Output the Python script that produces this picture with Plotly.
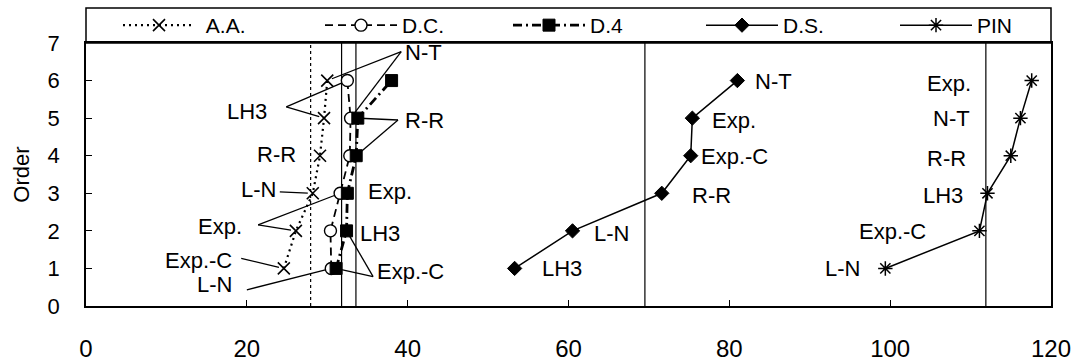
import numpy as np
import plotly.graph_objects as go

# ---------------- data ----------------
orders = [1, 2, 3, 4, 5, 6]
aa = [24.6, 26.1, 28.2, 29.1, 29.6, 30.0]          # A.A.
dc = [30.5, 30.4, 31.6, 32.8, 32.9, 32.5]          # D.C.
d4 = [31.1, 32.4, 32.5, 33.6, 33.8, 38.0]          # D.4
ds = [53.3, 60.5, 71.6, 75.2, 75.4, 81.0]          # D.S.
pin = [99.4, 111.1, 112.1, 115.0, 116.2, 117.6]    # PIN

ds_labels = ["LH3", "L-N", "R-R", "Exp.-C", "Exp.", "N-T"]
pin_labels = ["L-N", "Exp.-C", "LH3", "R-R", "N-T", "Exp."]
x_ticks = [0, 20, 40, 60, 80, 100, 120]
y_ticks = [0, 1, 2, 3, 4, 5, 6, 7]

series = {"A.A.": aa, "D.C.": dc, "D.4": d4, "D.S.": ds, "PIN": pin}

FONT = "Arial, Liberation Sans, Helvetica, sans-serif"
W, H = 1082, 364
ML, MR, MT, MB = 86, 31, 43, 58
PW, PH = W - ML - MR, H - MT - MB
XR, YR = (0, 120), (0, 7)
sx = PW / (XR[1] - XR[0])
sy = PH / (YR[1] - YR[0])

fig = go.Figure()

styles = {
    "A.A.": dict(line=dict(color="black", width=2.2, dash="2px,4px"),
                 marker=dict(symbol="x-thin-open", size=12, line=dict(color="black", width=1.6))),
    "D.C.": dict(line=dict(color="black", width=1.8, dash="8px,5px"),
                 marker=dict(symbol="circle", size=12, color="white", line=dict(color="black", width=1.4))),
    "D.4": dict(line=dict(color="black", width=2.8, dash="9px,4px,2px,4px"),
                marker=dict(symbol="square", size=12, color="black", line=dict(color="black", width=1))),
    "D.S.": dict(line=dict(color="black", width=1.5),
                 marker=dict(symbol="diamond", size=11, color="black", line=dict(color="black", width=1))),
    "PIN": dict(line=dict(color="black", width=1.5),
                marker=dict(symbol="asterisk-open", size=12, line=dict(color="black", width=1.5))),
}

# each series gets its own legend so the entries sit where the reference puts them
legend_ids = ["legend", "legend2", "legend3", "legend4", "legend5"]
legend_x_px = [118, 320, 508, 701, 895]   # left edge of each legend entry (px)
legend_pad = {"A.A.": "\u00a0"}            # extra gap between sample and text

for (name, vals), lid in zip(series.items(), legend_ids):
    fig.add_trace(go.Scatter(x=vals, y=orders, mode="lines+markers",
                             name=legend_pad.get(name, "") + name,
                             cliponaxis=False, legend=lid, **styles[name]))

# mean lines
mean_styles = {"A.A.": "dot", "D.C.": "solid", "D.4": "solid", "D.S.": "solid", "PIN": "solid"}
for name, vals in series.items():
    m = float(np.mean(vals))
    fig.add_shape(type="line", x0=m, x1=m, y0=YR[0], y1=YR[1], xref="x", yref="y",
                  line=dict(color="black", width=1.2, dash=mean_styles[name]), layer="below")

# ---------------- annotations ----------------
LFS = 22
def label(text, x, y, anchor):
    fig.add_annotation(x=x, y=y, xref="x", yref="y", text=text, showarrow=False,
                       xanchor=anchor, yanchor="middle", borderpad=0,
                       font=dict(family=FONT, size=LFS, color="black"))

# D.S. labels (left-anchored, to the right of points)
ds_label_pos = [(56.6, 1.0), (63.0, 1.93), (75.2, 2.95), (76.3, 3.97), (77.7, 4.95), (83.1, 5.98)]
for t, (lx, ly) in zip(ds_labels, ds_label_pos):
    label(t, lx, ly, "left")

# PIN labels (right-anchored, to the left of points)
pin_label_pos = [(96.4, 1.0), (104.6, 1.98), (109.2, 2.94), (109.6, 3.93), (110.0, 4.98), (110.2, 5.91)]
for t, (lx, ly) in zip(pin_labels, pin_label_pos):
    label(t, lx, ly, "right")

# left cluster labels
left_labels = [
    ("N-T", 39.6, 6.76, "left"),
    ("LH3", 22.6, 5.17, "right"),
    ("R-R", 39.6, 4.95, "left"),
    ("R-R", 26.2, 4.02, "right"),
    ("L-N", 23.7, 3.09, "right"),
    ("Exp.", 34.9, 3.04, "left"),
    ("Exp.", 19.5, 2.12, "right"),
    ("LH3", 34.0, 1.92, "left"),
    ("Exp.-C", 18.3, 1.22, "right"),
    ("L-N", 18.3, 0.58, "right"),
    ("Exp.-C", 36.1, 0.93, "left"),
]
for t, lx, ly, a in left_labels:
    label(t, lx, ly, a)

# leader lines: start point -> (series, index)
leaders = [
    ((39.2, 6.77), [("A.A.", 5), ("D.C.", 4)]),
    ((24.9, 5.30), [("A.A.", 4), ("D.C.", 5)]),
    ((38.8, 4.95), [("D.4", 4), ("D.4", 3)]),
    ((24.1, 3.04), [("A.A.", 2)]),
    ((21.4, 2.16), [("A.A.", 1), ("D.C.", 2)]),
    ((19.3, 1.27), [("A.A.", 0)]),
    ((20.0, 0.43), [("D.C.", 0)]),
    ((35.7, 0.78), [("D.4", 1), ("D.4", 0)]),
]
for (x0, y0), targets in leaders:
    for sname, i in targets:
        tx, ty = series[sname][i], orders[i]
        dxp, dyp = (tx - x0) * sx, (ty - y0) * sy
        d = (dxp ** 2 + dyp ** 2) ** 0.5
        short = 5.0 if sname == "A.A." else 2.0
        f = max(0.0, (d - short) / d)
        fig.add_shape(type="line", x0=x0, y0=y0, x1=x0 + (tx - x0) * f, y1=y0 + (ty - y0) * f,
                      xref="x", yref="y", line=dict(color="black", width=1.3), layer="below")

# legend box
fig.add_shape(type="rect", xref="paper", yref="paper", x0=0, x1=1, y0=1, y1=1 + 35 / PH,
              line=dict(color="black", width=1.5), fillcolor="white", layer="below")

axis_common = dict(showline=True, linecolor="black", linewidth=1.5, mirror=True,
                   ticks="inside", ticklen=6, tickwidth=1, tickcolor="black",
                   showgrid=False, zeroline=False, automargin=False)

legend_common = dict(orientation="h", y=1 + 17.5 / PH, xanchor="left", yanchor="middle",
                     bgcolor="rgba(0,0,0,0)", itemwidth=72, borderwidth=0,
                     font=dict(family=FONT, size=21, color="black"))

layout_legends = {}
for lid, px in zip(legend_ids, legend_x_px):
    layout_legends[lid] = dict(x=(px - ML) / PW, **legend_common)

fig.update_layout(
    width=W, height=H,
    margin=dict(l=ML, r=MR, t=MT, b=MB, pad=0, autoexpand=False),
    paper_bgcolor="white", plot_bgcolor="white",
    font=dict(family=FONT, size=20, color="black"),
    xaxis=dict(range=list(XR), tickvals=x_ticks, ticklabelstandoff=20,
               tickfont=dict(family=FONT, size=24, color="black"), **axis_common),
    yaxis=dict(range=list(YR), tickvals=y_ticks, ticklabelstandoff=20,
               tickfont=dict(family=FONT, size=22, color="black"),
               title=dict(text="Order", font=dict(family=FONT, size=22), standoff=12),
               **axis_common),
    showlegend=True,
    **layout_legends,
)

fig.write_html("out.html", config={"displayModeBar": False},
               post_script="document.body.style.margin='0';document.body.style.overflow='hidden';")
